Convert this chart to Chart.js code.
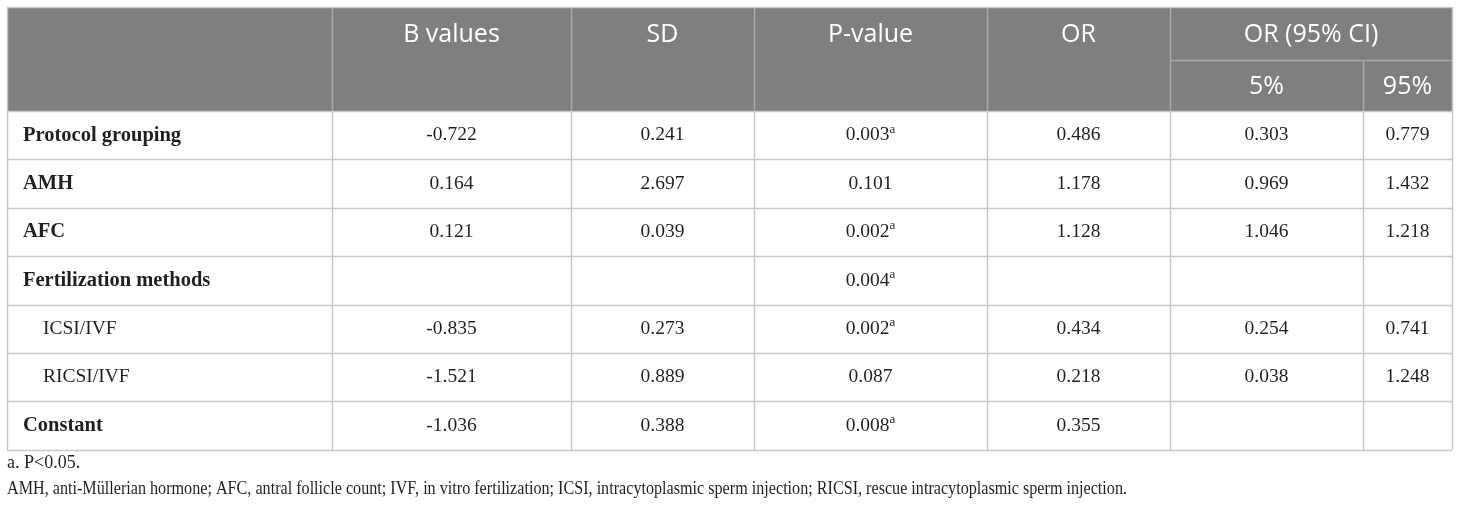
<!DOCTYPE html>
<html>
<head>
<meta charset="utf-8">
<script src="https://cdn.jsdelivr.net/npm/chart.js@4/dist/chart.umd.min.js"></script>
<style>
    html, body { margin: 0; padding: 0; background: #fff; }
    canvas { display: block; }
</style>
</head>
<body>
<canvas id="table" width="1460" height="512"></canvas>
<script>
// table content
const headers = ['B values', 'SD', 'P-value', 'OR'];
const ciHeader = 'OR (95% CI)';
const ciSubHeaders = ['5%', '95%'];
const rowLabels = ['Protocol grouping', 'AMH', 'AFC', 'Fertilization methods', 'ICSI/IVF', 'RICSI/IVF', 'Constant'];
const subRows = [false, false, false, false, true, true, false];
const bValues = [-0.722, 0.164, 0.121, null, -0.835, -1.521, -1.036];
const sdValues = [0.241, 2.697, 0.039, null, 0.273, 0.889, 0.388];
const pValues = [0.003, 0.101, 0.002, 0.004, 0.002, 0.087, 0.008];
const pSignificant = [true, false, true, true, true, false, true];
const orValues = [0.486, 1.178, 1.128, null, 0.434, 0.218, 0.355];
const ciLow = [0.303, 0.969, 1.046, null, 0.254, 0.038, null];
const ciHigh = [0.779, 1.432, 1.218, null, 0.741, 1.248, null];
const footnotes = [
    'a. P<0.05.',
    'AMH, anti-Müllerian hormone; AFC, antral follicle count; IVF, in vitro fertilization; ICSI, intracytoplasmic sperm injection; RICSI, rescue intracytoplasmic sperm injection.'
];

// layout (x in table units, y in row units)
const colEdges = [7, 332, 571, 754, 987, 1170, 1363, 1452];
const headSplit = 1.095;
const headBottom = 2.149;
const footRows = [9.43, 9.96];
const footWidth = 1120;

const fmt = v => (v === null ? '' : v.toFixed(3));

const tablePlugin = {
    id: 'tablePlugin',
    afterDraw(chart) {
        const {ctx, scales: {x, y}} = chart;
        const X = v => x.getPixelForValue(v);
        const Y = v => y.getPixelForValue(v);
        const left = X(colEdges[0]);
        const right = X(colEdges[colEdges.length - 1]);
        const top = Y(0);
        const bottom = Y(headBottom + rowLabels.length);
        const mid = i => (X(colEdges[i]) + X(colEdges[i + 1])) / 2;

        ctx.save();

        // header background
        ctx.fillStyle = '#7f7f7f';
        ctx.fillRect(left, top, right - left, Y(headBottom) - top);

        // header lines
        ctx.strokeStyle = '#a9a9a9';
        ctx.lineWidth = 1.5;
        ctx.beginPath();
        for (let i = 1; i < colEdges.length - 1; i++) {
            const px = Math.round(X(colEdges[i])) + 0.5;
            ctx.moveTo(px, i === 6 ? Y(headSplit) : top);
            ctx.lineTo(px, Y(headBottom));
        }
        ctx.moveTo(X(colEdges[5]), Math.round(Y(headSplit)) + 0.5);
        ctx.lineTo(right, Math.round(Y(headSplit)) + 0.5);
        ctx.stroke();

        // body lines
        ctx.strokeStyle = '#c8c8c8';
        ctx.beginPath();
        for (let r = 0; r <= rowLabels.length; r++) {
            const py = Math.round(Y(headBottom + r)) + 0.5;
            ctx.moveTo(left, py);
            ctx.lineTo(right, py);
        }
        for (let i = 0; i < colEdges.length; i++) {
            const px = Math.round(X(colEdges[i])) + 0.5;
            ctx.moveTo(px, i === 0 || i === colEdges.length - 1 ? top : Y(headBottom));
            ctx.lineTo(px, bottom);
        }
        ctx.moveTo(left, Math.round(top) + 0.5);
        ctx.lineTo(right, Math.round(top) + 0.5);
        ctx.stroke();

        // header text
        ctx.fillStyle = '#ffffff';
        ctx.font = '25px "Open Sans"';
        ctx.textAlign = 'center';
        ctx.textBaseline = 'middle';
        const hy = Y(headSplit * 0.52);
        headers.forEach((h, i) => ctx.fillText(h, mid(i + 1), hy));
        ctx.fillText(ciHeader, (X(colEdges[5]) + right) / 2, hy);
        const sy = Y((headSplit + headBottom) / 2 + 0.02);
        ciSubHeaders.forEach((h, i) => ctx.fillText(h, mid(i + 5), sy));

        // body text
        ctx.fillStyle = '#231f20';
        const bodyFont = '19.5px "Liberation Serif"';
        const columns = [bValues, sdValues, null, orValues, ciLow, ciHigh];
        rowLabels.forEach((label, r) => {
            const ry = Y(headBottom + r + 0.5);
            ctx.textAlign = 'left';
            ctx.font = subRows[r] ? bodyFont : 'bold 20.5px "Liberation Serif"';
            ctx.fillText(label, X(colEdges[0]) + (subRows[r] ? 36 : 16), ry);

            ctx.font = bodyFont;
            ctx.textAlign = 'center';
            columns.forEach((col, c) => {
                if (col) ctx.fillText(fmt(col[r]), mid(c + 1), ry);
            });

            // p-value with superscript
            const pText = fmt(pValues[r]);
            const w = ctx.measureText(pText).width;
            ctx.font = '13px "Liberation Serif"';
            const sw = pSignificant[r] ? ctx.measureText('a').width : 0;
            const start = mid(3) - (w + sw) / 2;
            ctx.textAlign = 'left';
            if (pSignificant[r]) ctx.fillText('a', start + w, ry - 6);
            ctx.font = bodyFont;
            ctx.fillText(pText, start, ry);
        });

        // footnotes
        ctx.font = '18px "Liberation Serif"';
        ctx.textAlign = 'left';
        footnotes.forEach((f, i) => ctx.fillText(f, left, Y(footRows[i]), footWidth));

        ctx.restore();
    }
};

new Chart(document.getElementById('table').getContext('2d'), {
    type: 'scatter',
    data: { datasets: [{ data: [] }] },
    options: {
        responsive: false,
        animation: false,
        layout: { padding: 0 },
        plugins: { legend: { display: false }, tooltip: { enabled: false } },
        scales: {
            x: { type: 'linear', min: 0, max: 1460, display: false },
            y: { type: 'linear', min: -0.145, max: 10.434, reverse: true, display: false }
        }
    },
    plugins: [tablePlugin]
});
</script>
</body>
</html>
